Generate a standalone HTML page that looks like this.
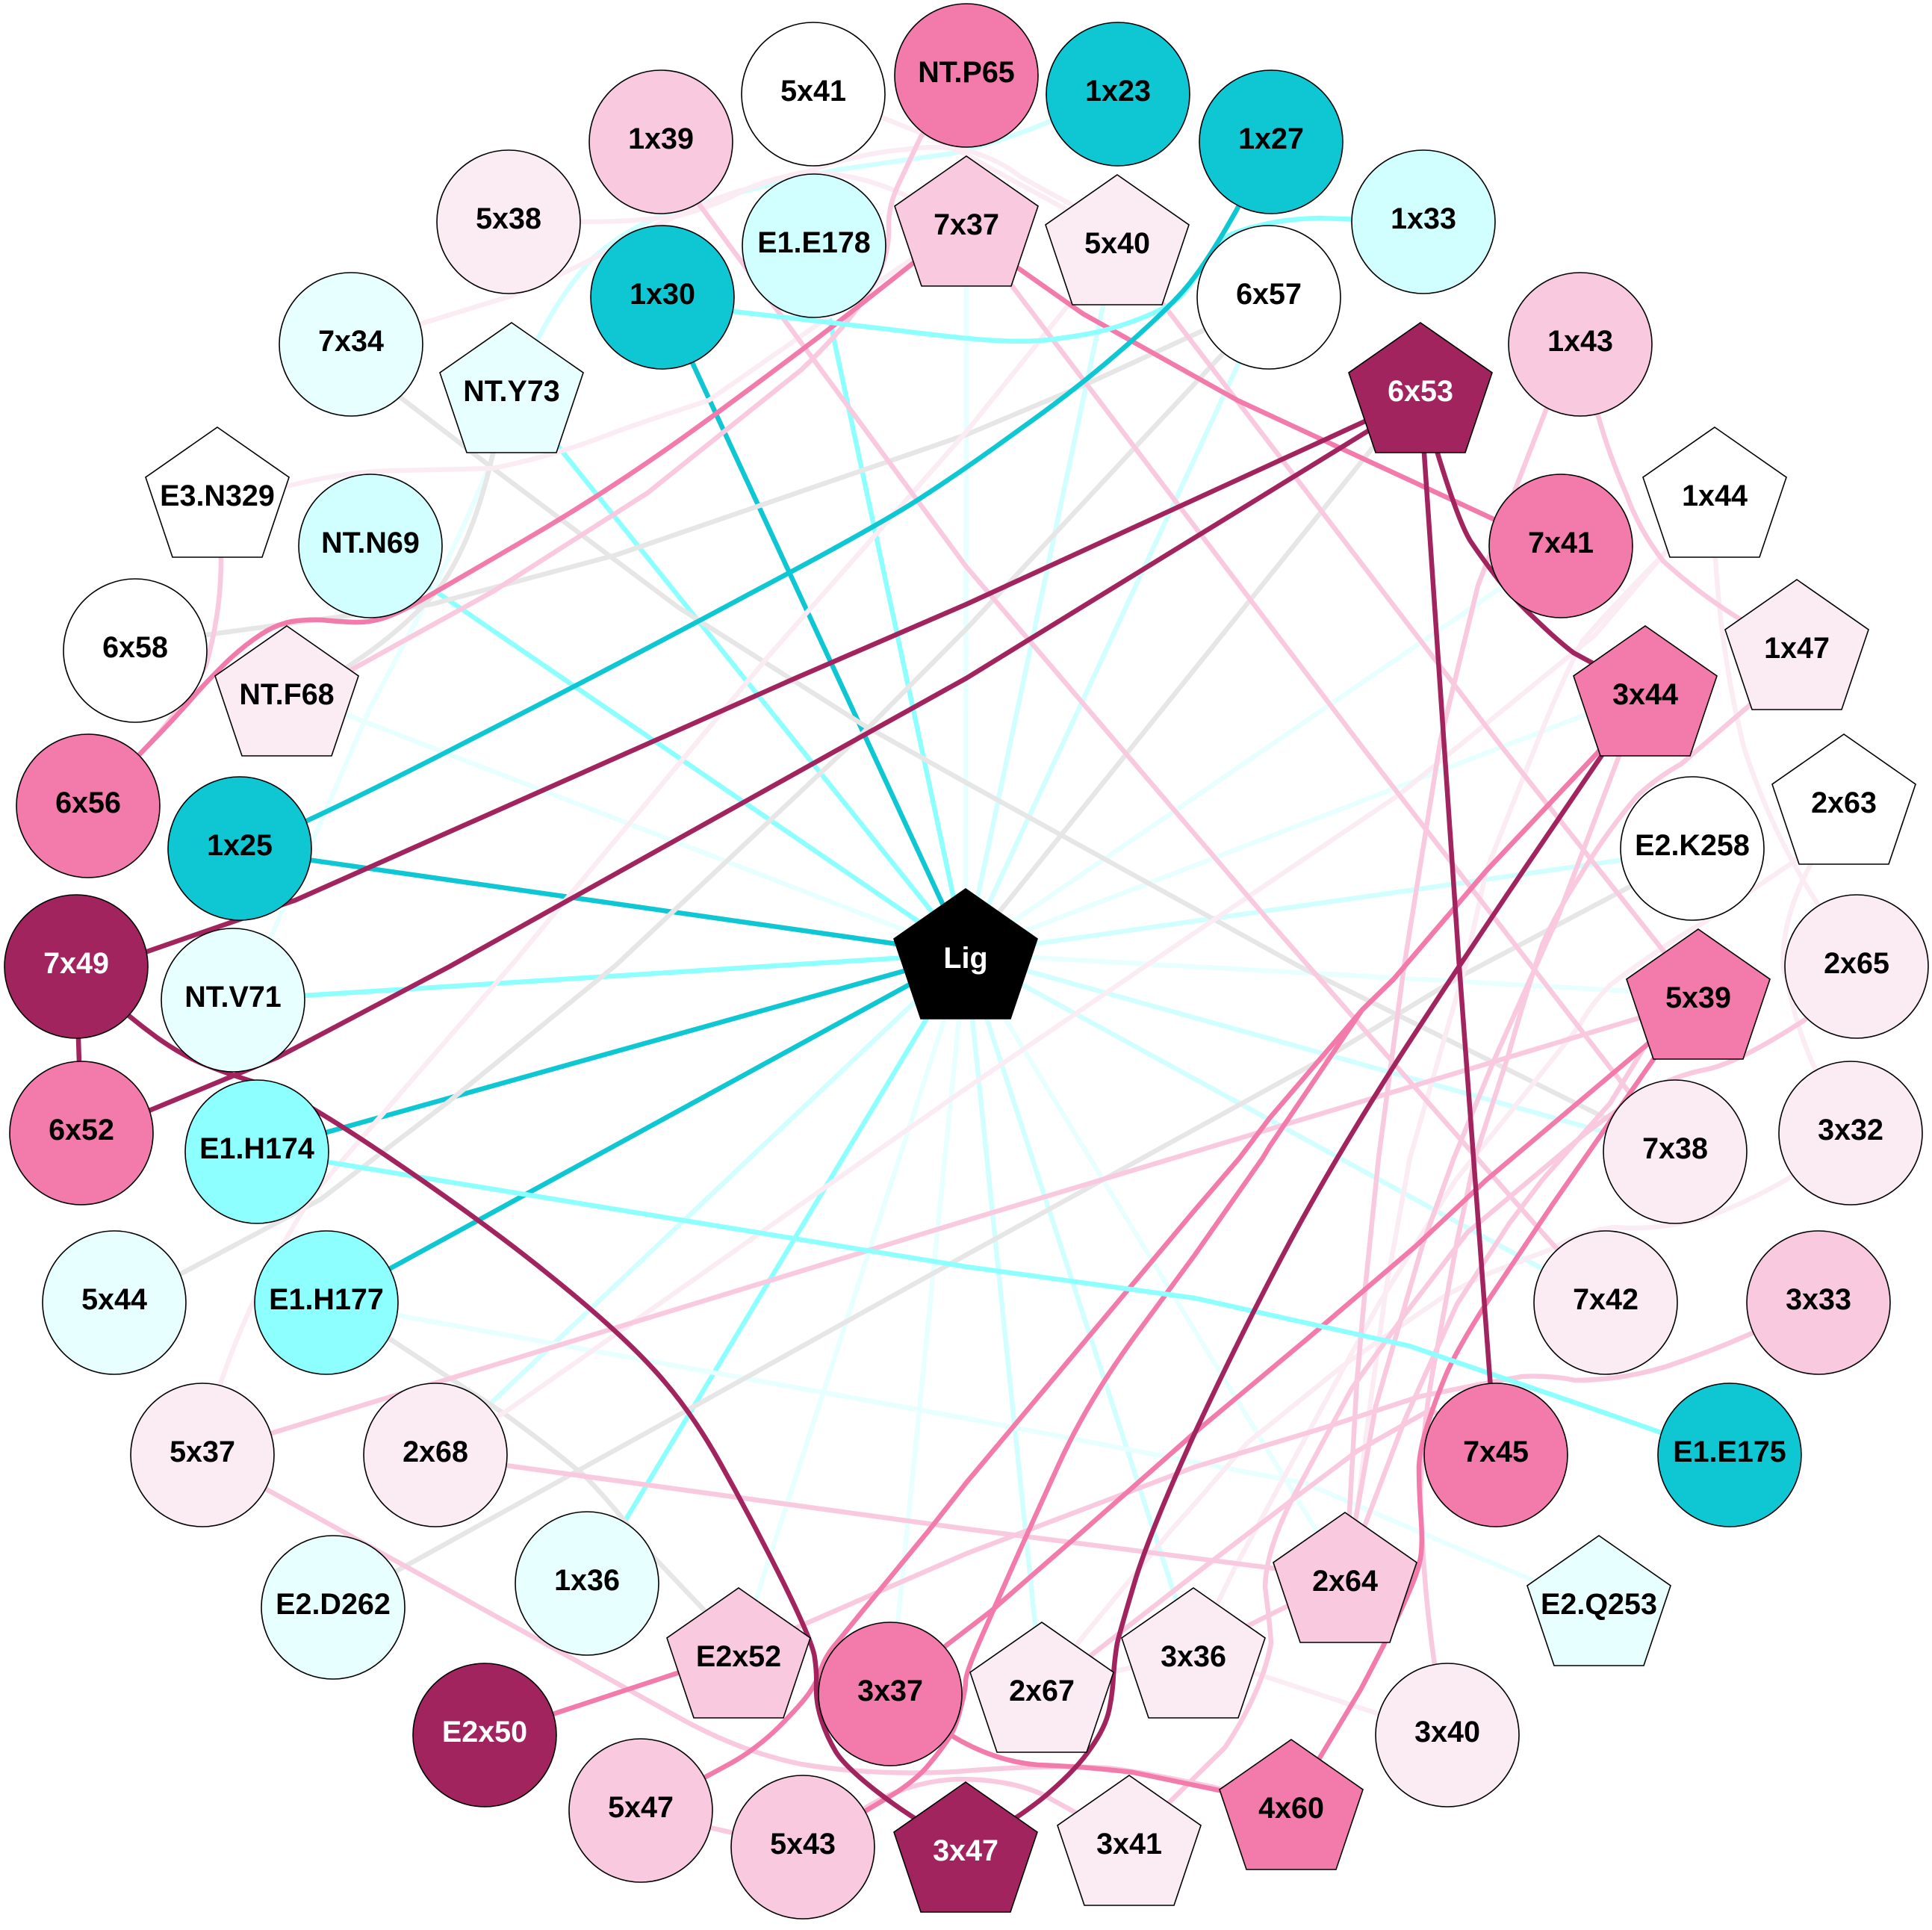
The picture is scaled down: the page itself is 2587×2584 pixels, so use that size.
<!DOCTYPE html>
<html><head><meta charset="utf-8">
<style>
html,body{margin:0;padding:0;background:#fff}
svg{display:block}
polyline,line,path{fill:none;stroke-width:6.5;stroke-linejoin:round;stroke-linecap:butt}
text{font-family:"Liberation Sans",sans-serif;font-weight:bold;font-size:39.5px;text-anchor:middle;fill:#000}
.w{fill:#fff}
circle,polygon{stroke:#000;stroke-width:1.6}
</style></head><body>
<svg width="2587" height="2584" viewBox="0 0 2587 2584" xmlns="http://www.w3.org/2000/svg">
<rect width="2587" height="2584" fill="#fff"/>
<!-- spokes -->
<g stroke="#e8ffff">
<line x1="1293" y1="1277" x2="1294" y2="296"/>
<line x1="1293" y1="1277" x2="384" y2="926"/>
<line x1="1293" y1="1277" x2="2203" y2="926"/>
<line x1="1293" y1="1277" x2="2090" y2="732"/>
<line x1="1293" y1="1277" x2="2274" y2="1332"/>
<line x1="1293" y1="1277" x2="989" y2="2213"/>
<line x1="1293" y1="1277" x2="1192" y2="2271"/>
<line x1="1293" y1="1277" x2="1801" y2="2112"/>
</g>
<g stroke="#d1ffff">
<line x1="1293" y1="1277" x2="1699" y2="399"/>
<line x1="1293" y1="1277" x2="1496" y2="320"/>
<line x1="1293" y1="1277" x2="2266" y2="1138"/>
<line x1="1293" y1="1277" x2="2243" y2="1542"/>
<line x1="1293" y1="1277" x2="2150" y2="1745"/>
<line x1="1293" y1="1277" x2="1598" y2="2213"/>
<line x1="1293" y1="1277" x2="1395" y2="2261"/>
<line x1="1293" y1="1277" x2="583" y2="1949"/>
</g>
<g stroke="#e6e6e6"><line x1="1293" y1="1277" x2="1902" y2="520"/></g>
<g stroke="#8dffff">
<line x1="1293" y1="1277" x2="1090" y2="330"/>
<line x1="1293" y1="1277" x2="685" y2="520"/>
<line x1="1293" y1="1277" x2="496" y2="732"/>
<line x1="1293" y1="1277" x2="312" y2="1339"/>
<line x1="1293" y1="1277" x2="786" y2="2121"/>
</g>
<g stroke="#0fc7d3">
<line x1="1293" y1="1277" x2="887" y2="399"/>
<line x1="1293" y1="1277" x2="321" y2="1138"/>
<line x1="1293" y1="1277" x2="344" y2="1542"/>
<line x1="1293" y1="1277" x2="437" y2="1745"/>
</g>
<!-- light cyan curves -->
<g stroke="#e8ffff">
<path d="M685 520 L660 611 Q625 700 578 792 L495 949 L363 1254 L312 1339"/>
<polyline points="437,1745 532,1761 1294,1899 1748,1986 2053,2116 2141,2150"/>
</g>
<g stroke="#d1ffff">
<path d="M685 520 L718 458 Q750 395 792 347 Q845 300 908 281 Q1010 250 1123 227 L1277 205 Q1340 190 1407 162 L1497 126"/>
</g>
<!-- gray -->
<g stroke="#e6e6e6">
<path d="M685 520 L660 607 Q635 720 590 785 Q540 845 462 895 L384 926"/>
<polyline points="181,872 276,850 578,809 825,743 1294,582 1451,516 1612,442 1699,399"/>
<polyline points="1699,399 1636,475 1517,602 1294,842 1155,982 825,1292 602,1474 429,1606 243,1705 153,1745"/>
<polyline points="470,462 536,532 660,627 908,813 1155,970 1294,1048 1740,1294 1995,1420 2152,1498 2243,1542"/>
<polyline points="2266,1138 2181,1188 1954,1308 1789,1408 1294,1680 924,1886 528,2105 446,2153"/>
<path d="M437 1745 L524 1794 L677 1894 Q740 1940 784 1977 Q830 2025 867 2076 L945 2158 L989 2213"/>
</g>
<!-- lightest pink -->
<g stroke="#fbecf4">
<path d="M291 660 L388 650 Q470 630 536 630 L660 627 Q745 610 825 578 Q890 555 949 536 L1097 433 L1294 296"/>
<path d="M470 462 L565 433 L685 396 Q760 365 825 330 Q880 300 924 281 Q965 262 1000 253 Q1050 235 1080 230 Q1150 205 1213 200 Q1260 193 1300 203 Q1340 215 1367 237 Q1400 255 1433 273 L1496 320"/>
<path d="M681 297 L780 297 Q850 297 908 289 Q960 275 1000 253 Q1040 236 1080 232 Q1147 230 1213 262 L1294 296"/>
<polyline points="1089,126 1180,157 1233,178 1293,207 1427,280 1496,320"/>
<path d="M271 1949 L295 1853 Q340 1720 421 1597 L685 1292 L1032 875 L1294 578 L1434 404 L1496 320"/>
<path d="M2296 660 L2297 747 Q2305 880 2335 1000 Q2370 1110 2433 1209 L2486 1296"/>
<path d="M2469 1072 L2421 1164 Q2392 1220 2388 1271 Q2386 1300 2392 1308 Q2405 1375 2429 1428 L2478 1517"/>
<path d="M2469 1072 L2400 1155 L2326 1205 L2280 1236 Q2227 1265 2156 1319 Q2130 1345 2115 1373 L2032 1477 L1949 1580 L1898 1662 L1846 1746 L1800 1830 L1723 1971 L1653 2100 L1598 2213"/>
<path d="M2478 1517 L2396 1577 Q2340 1610 2284 1630 Q2220 1648 2160 1643 Q2115 1650 2078 1672 L1986 1708 L1933 1736 L1800 1827 L1670 1932 L1600 2013 L1567 2050 L1443 2200 L1395 2261"/>
<polyline points="2296,660 2227,743 2136,850 1872,1065 1533,1294 1294,1457 677,1890 583,1949"/>
<path d="M2296 660 L2227 743 Q2170 800 2119 858 Q2085 925 2056 1000 L1990 1166 L1962 1294 L1888 1550 L1856 1725 L1832 1900 L1817 2024 L1801 2112"/>
<line x1="1395" y1="2261" x2="1598" y2="2213"/>
<line x1="1598" y1="2213" x2="1938" y2="2325"/>
</g>
<!-- mid pink -->
<g stroke="#f9c9df">
<polyline points="885,190 938,276 1294,759 1700,1234 2065,1650 2150,1745"/>
<polyline points="1294,296 1356,384 1824,1000 2243,1542"/>
<polyline points="1496,320 1558,408 2011,1000 2274,1332"/>
<path d="M384 926 L470 897 L660 792 L867 660 L1073 495 Q1147 425 1175 370 Q1192 335 1190 300 Q1190 275 1203 247 L1233 183 L1294 101"/>
<path d="M118 1081 L186 1011 Q245 950 276 890 Q296 820 296 750 L291 660"/>
<polyline points="271,1949 363,1919 1294,1634 2198,1362 2274,1332"/>
<path d="M271 1949 L355 1993 L908 2299 Q990 2345 1073 2362 Q1170 2378 1280 2372 Q1400 2362 1483 2367 Q1560 2376 1729 2417"/>
<path d="M1075 2475 L1160 2420 Q1215 2385 1283 2382 Q1350 2382 1395 2402 L1512 2466"/>
<line x1="858" y1="2426" x2="1075" y2="2475"/>
<polyline points="583,1949 1294,2047 1801,2112"/>
<path d="M989 2213 L1294 2080 L1600 1964 L1775 1911 L1900 1870 Q1986 1852 2038 1843 Q2075 1841 2109 1848 Q2170 1848 2230 1830 Q2290 1810 2346 1785 L2435 1745"/>
<polyline points="1395,2261 1460,2217 1610,2100 1733,2006 1817,1943 1916,1887 2003,1949"/>
<polyline points="2116,462 2070,549 1979,784 1929,990 1880,1294 1846,1550 1828,1725 1817,1848 1807,2024 1801,2112"/>
<path d="M2116 462 L2140 557 Q2155 610 2177 660 Q2195 710 2227 751 Q2275 795 2330 829 L2406 864"/>
<polyline points="2203,926 2168,1012 2086,1228 1999,1423 1947,1550 1905,1666 1842,1883 1817,2024 1801,2112"/>
<path d="M2406 864 L2342 945 Q2295 985 2251 1023 Q2220 1040 2193 1065 Q2150 1115 2115 1174 Q2085 1220 2065 1265 Q2040 1340 2019 1415 L1975 1550 L1951 1662 L1923 1813 Q1905 1900 1902 2000 Q1905 2120 1921 2229 L1938 2325"/>
<polyline points="2274,1332 2202,1402 2156,1477 2065,1580 2021,1638 1951,1746 1881,1901 1828,2041 1801,2112"/>
<path d="M2486 1296 L2416 1366 Q2326 1424 2284 1432 Q2243 1440 2206 1461 Q2169 1482 2121 1519 L1965 1650 L1881 1760 L1810 1859 L1740 1989 Q1695 2070 1694 2125 Q1700 2170 1702 2200 Q1690 2265 1640 2340 L1512 2466"/>
<line x1="1598" y1="2213" x2="1801" y2="2112"/>
</g>
<!-- strong pink -->
<g stroke="#f27bab">
<polyline points="1294,296 1362,358 1450,420 1657,536 2002,696 2090,732"/>
<path d="M118 1081 L213 983 Q240 955 264 927 Q289 900 309 881 Q330 862 350 849 Q370 836 391 832 Q413 829 431 830 Q450 832 472 833 Q495 834 515 827 Q535 820 556 808 Q578 796 701 724 Q825 652 949 561 Q1073 470 1147 412 L1294 296"/>
<path d="M2203 926 L2139 1008 L1990 1166 L1866 1311 L1824 1352 L1700 1497 L1660 1550 L1600 1620 L1294 1985 L1243 2050 L1150 2163 L1120 2200 Q1106 2216 1100 2233 Q1095 2250 1084 2266 Q1073 2282 1044 2311 Q1015 2340 980 2360 L858 2426"/>
<path d="M2203 926 L2139 1008 L1990 1166 L1866 1311 L1824 1352 L1700 1535 L1691 1550 L1600 1680 L1530 1775 Q1459 1870 1418 1960 Q1377 2050 1357 2095 Q1337 2140 1315 2190 Q1293 2240 1293 2251 Q1293 2263 1286 2288 Q1280 2313 1270 2328 Q1260 2343 1245 2361 Q1230 2380 1200 2400 L1075 2475"/>
<polyline points="2274,1332 2206,1398 1990,1580 1895,1669 1751,1792 1600,1918 1450,2050 1327,2157 1267,2203 1192,2271"/>
<path d="M2274 1332 L2080 1611 Q2038 1673 1994 1739 Q1951 1806 1936 1841 Q1921 1877 1911 1909 Q1901 1941 1900 1964 Q1900 1988 1902 2023 Q1905 2059 1903 2079 Q1901 2100 1886 2133 Q1872 2167 1822 2262 L1729 2417"/>
<path d="M1192 2271 L1273 2323 Q1330 2358 1390 2363 Q1450 2365 1517 2373 L1729 2417"/>
<line x1="649" y1="2325" x2="989" y2="2213"/>
</g>
<!-- teal / cyan curves -->
<g stroke="#8dffff">
<path d="M887 399 L982 417 Q1089 429 1191 441 Q1294 454 1335 456 Q1377 458 1403 455 Q1430 452 1457 447 Q1484 442 1512 432 Q1540 422 1557 413 Q1575 404 1586 391 Q1597 378 1606 362 Q1616 347 1625 334 Q1635 322 1646 315 Q1657 309 1690 301 Q1723 293 1766 292 L1906 297"/>
<polyline points="344,1542 440,1556 1294,1696 1600,1738 1887,1802 2150,1892 2227,1919 2316,1949"/>
</g>
<g stroke="#0fc7d3">
<path d="M1702 190 L1657 279 Q1620 345 1597 374 Q1575 404 1509 462 Q1443 520 1368 573 Q1294 627 1237 664 Q1180 702 1002 796 Q825 891 619 996 Q413 1102 321 1138"/>
</g>
<!-- dark -->
<g stroke="#a2245e">
<polyline points="1902,520 1830,563 1294,809 1065,908 396,1205 194,1275 102,1296"/>
<polyline points="1902,520 1835,575 1294,908 1168,978 602,1294 371,1416 202,1486 109,1517"/>
<polyline points="1902,520 1907,607 1954,1294 1995,1845 2003,1949"/>
<path d="M1902 520 L1925 607 Q1954 702 1970 726 Q1987 751 2008 778 Q2030 805 2058 831 Q2086 858 2107 874 L2203 926"/>
<line x1="102" y1="1296" x2="109" y2="1517"/>
<path d="M102 1296 L137 1329 Q173 1362 210 1389 Q248 1416 281 1428 Q314 1441 355 1453 Q396 1465 524 1552 Q652 1639 738 1709 Q825 1779 874 1832 Q924 1886 965 1960 Q1007 2035 1048 2117 Q1089 2200 1091 2220 Q1094 2240 1093 2261 Q1093 2282 1100 2303 Q1107 2325 1119 2345 Q1131 2365 1176 2400 Q1221 2435 1293 2475"/>
<path d="M2203 926 L2049 1152 Q1954 1292 1871 1420 Q1789 1548 1727 1663 Q1665 1779 1602 1914 Q1540 2050 1520 2116 Q1500 2183 1496 2200 Q1493 2217 1491 2242 Q1490 2267 1485 2290 Q1480 2313 1461 2340 Q1443 2367 1405 2400 Q1367 2433 1293 2475"/>
</g>
<!-- circles -->
<circle cx="1089" cy="126" r="96" fill="#ffffff"/>
<circle cx="1294" cy="101" r="96" fill="#f27bab"/>
<circle cx="885" cy="190" r="96" fill="#f9c9df"/>
<circle cx="1090" cy="329" r="96" fill="#d1ffff"/>
<circle cx="681" cy="297" r="96" fill="#fbecf4"/>
<circle cx="887" cy="398" r="96" fill="#0fc7d3"/>
<circle cx="470" cy="461" r="96" fill="#e8ffff"/>
<circle cx="496" cy="731" r="96" fill="#d1ffff"/>
<circle cx="181" cy="871" r="96" fill="#ffffff"/>
<circle cx="118" cy="1079" r="96" fill="#f27bab"/>
<circle cx="321" cy="1136" r="96" fill="#0fc7d3"/>
<circle cx="102" cy="1294" r="96" fill="#a2245e"/>
<circle cx="312" cy="1339" r="96" fill="#e8ffff"/>
<circle cx="109" cy="1517" r="96" fill="#f27bab"/>
<circle cx="344" cy="1542" r="96" fill="#8dffff"/>
<circle cx="153" cy="1744" r="96" fill="#e8ffff"/>
<circle cx="437" cy="1744" r="96" fill="#8dffff"/>
<circle cx="271" cy="1948" r="96" fill="#fbecf4"/>
<circle cx="583" cy="1948" r="96" fill="#fbecf4"/>
<circle cx="446" cy="2152" r="96" fill="#e8ffff"/>
<circle cx="786" cy="2120" r="96" fill="#e8ffff"/>
<circle cx="649" cy="2323" r="96" fill="#a2245e"/>
<circle cx="1192" cy="2268" r="96" fill="#f27bab"/>
<circle cx="858" cy="2424" r="96" fill="#f9c9df"/>
<circle cx="1075" cy="2473" r="96" fill="#f9c9df"/>
<circle cx="1497" cy="126" r="96" fill="#0fc7d3"/>
<circle cx="1702" cy="190" r="96" fill="#0fc7d3"/>
<circle cx="1906" cy="297" r="96" fill="#d1ffff"/>
<circle cx="1699" cy="398" r="96" fill="#ffffff"/>
<circle cx="2116" cy="461" r="96" fill="#f9c9df"/>
<circle cx="2090" cy="731" r="96" fill="#f27bab"/>
<circle cx="2266" cy="1136" r="96" fill="#ffffff"/>
<circle cx="2486" cy="1294" r="96" fill="#fbecf4"/>
<circle cx="2243" cy="1542" r="96" fill="#fbecf4"/>
<circle cx="2478" cy="1517" r="96" fill="#fbecf4"/>
<circle cx="2150" cy="1744" r="96" fill="#fbecf4"/>
<circle cx="2435" cy="1744" r="96" fill="#f9c9df"/>
<circle cx="2003" cy="1948" r="96" fill="#f27bab"/>
<circle cx="2316" cy="1948" r="96" fill="#0fc7d3"/>
<circle cx="1938" cy="2323" r="96" fill="#fbecf4"/>
<!-- pentagons -->
<g>
<polygon transform="translate(685,432)" points="0,0 96,67 60,174 -60,174 -96,67" fill="#e8ffff"/>
<polygon transform="translate(291,572)" points="0,0 96,67 60,174 -60,174 -96,67" fill="#ffffff"/>
<polygon transform="translate(384,838)" points="0,0 96,67 60,174 -60,174 -96,67" fill="#fbecf4"/>
<polygon transform="translate(989,2126)" points="0,0 96,67 60,174 -60,174 -96,67" fill="#f9c9df"/>
<polygon transform="translate(1293,2386)" points="0,0 96,67 60,174 -60,174 -96,67" fill="#a2245e"/>
<polygon transform="translate(1293,1190)" points="0,0 96,67 60,174 -60,174 -96,67" fill="#000000"/>
<polygon transform="translate(1294,209)" points="0,0 96,67 60,174 -60,174 -96,67" fill="#f9c9df"/>
<polygon transform="translate(1496,234)" points="0,0 96,67 60,174 -60,174 -96,67" fill="#fbecf4"/>
<polygon transform="translate(1902,432)" points="0,0 96,67 60,174 -60,174 -96,67" fill="#a2245e"/>
<polygon transform="translate(2296,572)" points="0,0 96,67 60,174 -60,174 -96,67" fill="#ffffff"/>
<polygon transform="translate(2406,776)" points="0,0 96,67 60,174 -60,174 -96,67" fill="#fbecf4"/>
<polygon transform="translate(2203,838)" points="0,0 96,67 60,174 -60,174 -96,67" fill="#f27bab"/>
<polygon transform="translate(2469,983)" points="0,0 96,67 60,174 -60,174 -96,67" fill="#ffffff"/>
<polygon transform="translate(2274,1244)" points="0,0 96,67 60,174 -60,174 -96,67" fill="#f27bab"/>
<polygon transform="translate(2141,2056)" points="0,0 96,67 60,174 -60,174 -96,67" fill="#e8ffff"/>
<polygon transform="translate(1801,2025)" points="0,0 96,67 60,174 -60,174 -96,67" fill="#f9c9df"/>
<polygon transform="translate(1598,2126)" points="0,0 96,67 60,174 -60,174 -96,67" fill="#fbecf4"/>
<polygon transform="translate(1395,2172)" points="0,0 96,67 60,174 -60,174 -96,67" fill="#fbecf4"/>
<polygon transform="translate(1729,2329)" points="0,0 96,67 60,174 -60,174 -96,67" fill="#f27bab"/>
<polygon transform="translate(1512,2377)" points="0,0 96,67 60,174 -60,174 -96,67" fill="#fbecf4"/>
</g>
<!-- labels -->
<text x="1089" y="135">5x41</text>
<text x="1294" y="110">NT.P65</text>
<text x="885" y="199">1x39</text>
<text x="1090" y="338">E1.E178</text>
<text x="681" y="306">5x38</text>
<text x="887" y="407">1x30</text>
<text x="470" y="470">7x34</text>
<text x="496" y="740">NT.N69</text>
<text x="181" y="880">6x58</text>
<text x="118" y="1088">6x56</text>
<text x="321" y="1145">1x25</text>
<text x="102" y="1303" class="w">7x49</text>
<text x="312" y="1348">NT.V71</text>
<text x="109" y="1526">6x52</text>
<text x="344" y="1551">E1.H174</text>
<text x="153" y="1753">5x44</text>
<text x="437" y="1753">E1.H177</text>
<text x="271" y="1957">5x37</text>
<text x="583" y="1957">2x68</text>
<text x="446" y="2161">E2.D262</text>
<text x="786" y="2129">1x36</text>
<text x="649" y="2332" class="w">E2x50</text>
<text x="1192" y="2277">3x37</text>
<text x="858" y="2433">5x47</text>
<text x="1075" y="2482">5x43</text>
<text x="1497" y="135">1x23</text>
<text x="1702" y="199">1x27</text>
<text x="1906" y="306">1x33</text>
<text x="1699" y="407">6x57</text>
<text x="2116" y="470">1x43</text>
<text x="2090" y="740">7x41</text>
<text x="2266" y="1145">E2.K258</text>
<text x="2486" y="1303">2x65</text>
<text x="2243" y="1551">7x38</text>
<text x="2478" y="1526">3x32</text>
<text x="2150" y="1753">7x42</text>
<text x="2435" y="1753">3x33</text>
<text x="2003" y="1957">7x45</text>
<text x="2316" y="1957">E1.E175</text>
<text x="1938" y="2332">3x40</text>
<text x="685" y="537">NT.Y73</text>
<text x="291" y="677">E3.N329</text>
<text x="384" y="943">NT.F68</text>
<text x="989" y="2231">E2x52</text>
<text x="1293" y="2491" class="w">3x47</text>
<text x="1293" y="1296" class="w">Lig</text>
<text x="1294" y="314">7x37</text>
<text x="1496" y="339">5x40</text>
<text x="1902" y="537" class="w">6x53</text>
<text x="2296" y="677">1x44</text>
<text x="2406" y="881">1x47</text>
<text x="2203" y="943">3x44</text>
<text x="2469" y="1088">2x63</text>
<text x="2274" y="1349">5x39</text>
<text x="2141" y="2161">E2.Q253</text>
<text x="1801" y="2130">2x64</text>
<text x="1598" y="2231">3x36</text>
<text x="1395" y="2277">2x67</text>
<text x="1729" y="2434">4x60</text>
<text x="1512" y="2482">3x41</text>
</svg>
</body></html>
